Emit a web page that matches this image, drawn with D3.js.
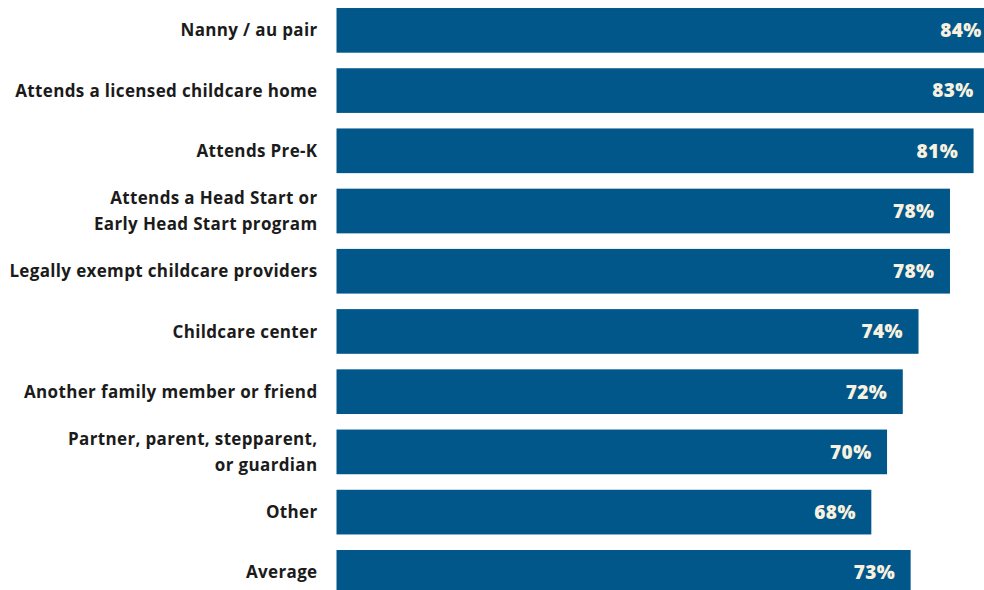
<!DOCTYPE html>
<html>
<head>
<meta charset="utf-8">
<script src="https://cdn.jsdelivr.net/npm/d3@7"></script>
<style>
  html, body { margin: 0; padding: 0; background: #ffffff; overflow: hidden; }
  svg { display: block; }
</style>
</head>
<body>
<svg id="chart" width="984" height="590"></svg>
<script>
// Care arrangements (label lines) and their shares, in percent
const categories = [
  ["Nanny / au pair"],
  ["Attends a licensed childcare home"],
  ["Attends Pre-K"],
  ["Attends a Head Start or", "Early Head Start program"],
  ["Legally exempt childcare providers"],
  ["Childcare center"],
  ["Another family member or friend"],
  ["Partner, parent, stepparent,", "or guardian"],
  ["Other"],
  ["Average"]
];
const values = [84, 83, 81, 78, 78, 74, 72, 70, 68, 73];

const W = 984, H = 590;
const barColor = "#02578a";
const valueColor = "#f8f1df";
const textColor = "#1b1b1b";

const svg = d3.select("#chart");

const ids = categories.map((c, i) => i);

const y = d3.scaleBand()
  .domain(ids)
  .range([0.25, 602.45])
  .paddingInner(0.258)
  .paddingOuter(0.129);

const x = d3.scaleLinear()
  .domain([0, 100])
  .range([336.5, 1123]);

const rows = svg.selectAll("g.row")
  .data(ids)
  .join("g")
  .attr("class", "row");

rows.append("rect")
  .attr("x", x(0))
  .attr("y", i => y(i))
  .attr("width", i => x(values[i]) - x(0))
  .attr("height", y.bandwidth())
  .attr("fill", barColor);

rows.append("text")
  .attr("x", i => x(values[i]) - 15.5)
  .attr("y", i => y(i) + y.bandwidth() / 2)
  .attr("dy", "0.36em")
  .attr("text-anchor", "end")
  .attr("fill", valueColor)
  .style("font-family", "'Open Sans', Lato, sans-serif")
  .style("font-weight", 800)
  .style("font-size", "19px")
  .style("letter-spacing", "0.4px")
  .text(i => d3.format(".0f")(values[i]) + "%");

const lineGap = 26;
rows.append("text")
  .attr("text-anchor", "end")
  .attr("fill", textColor)
  .style("font-family", "'Open Sans', Lato, sans-serif")
  .style("font-weight", 700)
  .style("font-size", "17px")
  .style("letter-spacing", "0.35px")
  .each(function (i) {
    const lines = categories[i];
    const cy = y(i) + y.bandwidth() / 2;
    const first = cy - (lines.length - 1) * lineGap / 2;
    d3.select(this).selectAll("tspan")
      .data(lines)
      .join("tspan")
      .attr("x", 317.5)
      .attr("y", (d, k) => first + k * lineGap)
      .attr("dy", "0.36em")
      .text(d => d);
  });
</script>
</body>
</html>
